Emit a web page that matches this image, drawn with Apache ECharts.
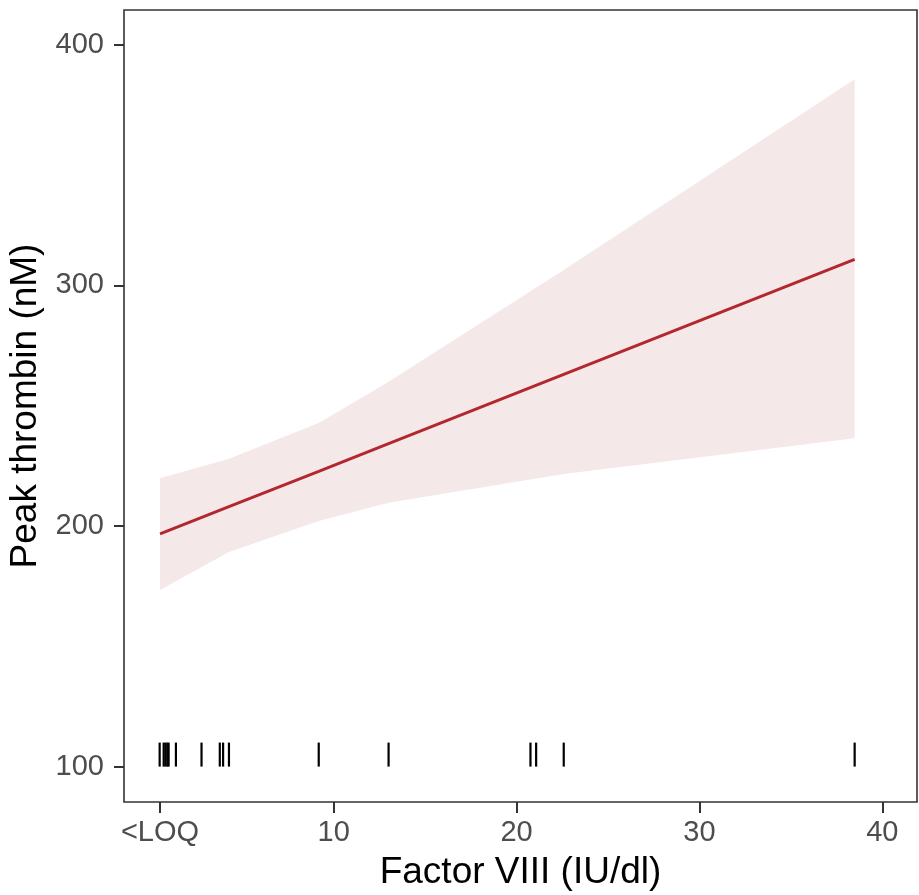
<!DOCTYPE html>
<html>
<head>
<meta charset="utf-8">
<script src="https://cdn.jsdelivr.net/npm/echarts@6/dist/echarts.min.js"></script>
<style>
html,body{margin:0;padding:0;background:#fff;}
#chart{width:919px;height:895px;}
</style>
</head>
<body>
<div id="chart"></div>
<script>
const xTickValues = [0.5, 10, 20, 30, 40];
const xTickLabels = ['<LOQ', '10', '20', '30', '40'];
const yTickValues = [100, 200, 300, 400];
const rugX = [0.48, 0.7, 0.8, 0.9, 0.97, 1.37, 2.77, 3.77, 3.95, 4.27, 9.18, 13.0, 20.76, 21.07, 22.58, 38.49];
const rugY = 105;
const fitX = [0.5, 4.27, 9.18, 13.0, 22.58, 38.49];
const fitY = [196.7, 208.0, 222.7, 234.2, 263.0, 310.8];
const ciLower = [173.4, 189.2, 202.1, 209.6, 221.6, 236.5];
const ciUpper = [219.8, 227.9, 242.8, 259.9, 306.4, 385.6];

const chart = echarts.init(document.getElementById('chart'), null, {renderer: 'canvas'});
const FONT = 'Liberation Sans, Arial, Helvetica, sans-serif';

const option = {
  animation: false,
  backgroundColor: '#ffffff',
  grid: {
    left: 124, top: 10, right: 2, bottom: 93,
    containLabel: false,
    outerBoundsMode: 'none',
    show: true, borderColor: '#333333', borderWidth: 1.6, backgroundColor: 'transparent'
  },
  xAxis: {
    type: 'value',
    min: -1.47, max: 41.9,
    name: 'Factor VIII (IU/dl)',
    nameLocation: 'middle',
    nameGap: 52,
    nameTextStyle: {fontFamily: FONT, fontSize: 37, color: '#000000'},
    axisLine: {show: false, onZero: false},
    splitLine: {show: false},
    axisTick: {show: true, length: 11, lineStyle: {color: '#333333', width: 2}, customValues: xTickValues},
    axisLabel: {
      show: true, margin: 16, fontFamily: FONT, fontSize: 29, color: '#4d4d4d',
      customValues: xTickValues,
      formatter: function (v) {
        const i = xTickValues.findIndex(t => Math.abs(t - v) < 1e-6);
        return i >= 0 ? xTickLabels[i] : '';
      }
    }
  },
  yAxis: {
    type: 'value',
    min: 85.3, max: 414.4,
    name: 'Peak thrombin (nM)',
    nameLocation: 'middle',
    nameGap: 80,
    nameRotate: 90,
    nameTextStyle: {fontFamily: FONT, fontSize: 37, color: '#000000'},
    axisLine: {show: false, onZero: false},
    splitLine: {show: false},
    axisTick: {show: true, length: 10, lineStyle: {color: '#333333', width: 2}, customValues: yTickValues},
    axisLabel: {
      show: true, margin: 20, fontFamily: FONT, fontSize: 29, color: '#4d4d4d',
      customValues: yTickValues
    }
  },
  series: [
    {
      type: 'custom',
      name: 'ci',
      silent: true,
      data: fitX.map((x, i) => [x, ciLower[i], ciUpper[i]]),
      encode: {x: 0, y: [1, 2]},
      renderItem: function (params, api) {
        if (params.dataIndex !== 0) return null;
        const pts = [];
        for (let i = 0; i < fitX.length; i++) pts.push(api.coord([fitX[i], ciUpper[i]]));
        for (let i = fitX.length - 1; i >= 0; i--) pts.push(api.coord([fitX[i], ciLower[i]]));
        return {type: 'polygon', shape: {points: pts}, style: {fill: '#f5e8e9', stroke: null}};
      },
      z: 1
    },
    {
      type: 'line',
      name: 'fit',
      data: fitX.map((x, i) => [x, fitY[i]]),
      showSymbol: false,
      symbol: 'none',
      lineStyle: {color: '#b3282e', width: 3},
      z: 3
    },
    {
      type: 'custom',
      name: 'rug',
      silent: true,
      data: rugX.map(x => [x, rugY]),
      encode: {x: 0, y: 1},
      renderItem: function (params, api) {
        const c = api.coord([api.value(0), api.value(1)]);
        return {
          type: 'line',
          shape: {x1: c[0], y1: c[1] - 12, x2: c[0], y2: c[1] + 12},
          style: {stroke: '#000000', lineWidth: 2.2}
        };
      },
      z: 4
    }
  ]
};
chart.setOption(option);
</script>
</body>
</html>
